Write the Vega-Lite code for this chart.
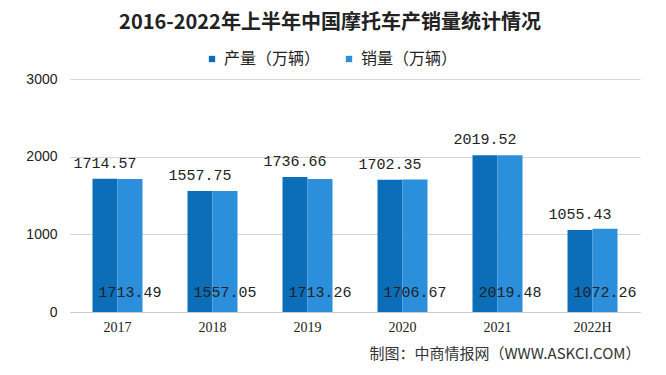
{
  "$schema": "https://vega.github.io/schema/vega-lite/v6.json",
  "width": 570,
  "height": 233,
  "autosize": {"type": "none"},
  "padding": {"left": 70, "top": 79, "right": 26, "bottom": 63},
  "background": "#ffffff",
  "title": {
    "text": "2016-2022年上半年中国摩托车产销量统计情况",
    "font": "Noto Sans CJK SC",
    "fontSize": 20,
    "fontWeight": "bold",
    "color": "#222222",
    "anchor": "middle",
    "frame": "group",
    "dx": -25,
    "offset": 18
  },
  "data": {
    "values": [
      {"year": "2017", "type": "产量（万辆）", "value": 1714.57},
      {"year": "2017", "type": "销量（万辆）", "value": 1713.49},
      {"year": "2018", "type": "产量（万辆）", "value": 1557.75},
      {"year": "2018", "type": "销量（万辆）", "value": 1557.05},
      {"year": "2019", "type": "产量（万辆）", "value": 1736.66},
      {"year": "2019", "type": "销量（万辆）", "value": 1713.26},
      {"year": "2020", "type": "产量（万辆）", "value": 1702.35},
      {"year": "2020", "type": "销量（万辆）", "value": 1706.67},
      {"year": "2021", "type": "产量（万辆）", "value": 2019.52},
      {"year": "2021", "type": "销量（万辆）", "value": 2019.48},
      {"year": "2022H", "type": "产量（万辆）", "value": 1055.43},
      {"year": "2022H", "type": "销量（万辆）", "value": 1072.26}
    ]
  },
  "encoding": {
    "x": {
      "field": "year",
      "type": "nominal",
      "sort": null,
      "scale": {"paddingInner": 0.4737, "paddingOuter": 0.2368},
      "axis": {
        "title": "制图：中商情报网（WWW.ASKCI.COM）",
        "titleFont": "Noto Sans CJK SC",
        "titleFontSize": 15,
        "titleFontWeight": "normal",
        "titleColor": "#333333",
        "titleAnchor": "end",
        "titlePadding": 12,
        "labelAngle": 0,
        "labelFont": "Liberation Serif",
        "labelFontSize": 14,
        "labelColor": "#222222",
        "labelPadding": 8,
        "ticks": false,
        "domain": true,
        "domainColor": "#c8c8c8",
        "domainWidth": 1
      }
    },
    "xOffset": {"field": "type", "type": "nominal", "scale": {"paddingInner": 0, "paddingOuter": 0}}
  },
  "layer": [
    {
      "mark": {"type": "bar"},
      "encoding": {
        "y": {
          "field": "value",
          "type": "quantitative",
          "scale": {"domain": [0, 3000]},
          "axis": {
            "title": null,
            "values": [0, 1000, 2000, 3000],
            "format": "d",
            "domain": false,
            "ticks": false,
            "grid": true,
            "gridColor": "#d4d4d4",
            "labelFont": "Liberation Sans",
            "labelFontSize": 14,
            "labelColor": "#222222",
            "labelPadding": 13
          }
        },
        "color": {
          "field": "type",
          "type": "nominal",
          "scale": {"domain": ["产量（万辆）", "销量（万辆）"], "range": ["#0c6eb9", "#2b8fdb"]},
          "legend": {
            "title": null,
            "orient": "none",
            "legendX": 134,
            "legendY": -28,
            "direction": "horizontal",
            "symbolType": "square",
            "symbolSize": 40,
            "labelFont": "Noto Sans CJK SC",
            "labelFontSize": 16,
            "labelColor": "#222222",
            "columnPadding": 20,
            "labelOffset": 4
          }
        }
      }
    },
    {
      "transform": [{"filter": "datum.type === '产量（万辆）'"}],
      "mark": {"type": "text", "baseline": "bottom", "dy": -8, "font": "Liberation Mono", "fontSize": 15, "color": "#222222"},
      "encoding": {
        "y": {"field": "value", "type": "quantitative"},
        "text": {"field": "value", "type": "quantitative", "format": ".2f"}
      }
    },
    {
      "transform": [{"filter": "datum.type === '销量（万辆）'"}],
      "mark": {"type": "text", "baseline": "middle", "dy": -20, "font": "Liberation Mono", "fontSize": 15, "color": "#222222"},
      "encoding": {
        "y": {"datum": 0},
        "text": {"field": "value", "type": "quantitative", "format": ".2f"}
      }
    }
  ],
  "config": {"view": {"stroke": null}}
}
